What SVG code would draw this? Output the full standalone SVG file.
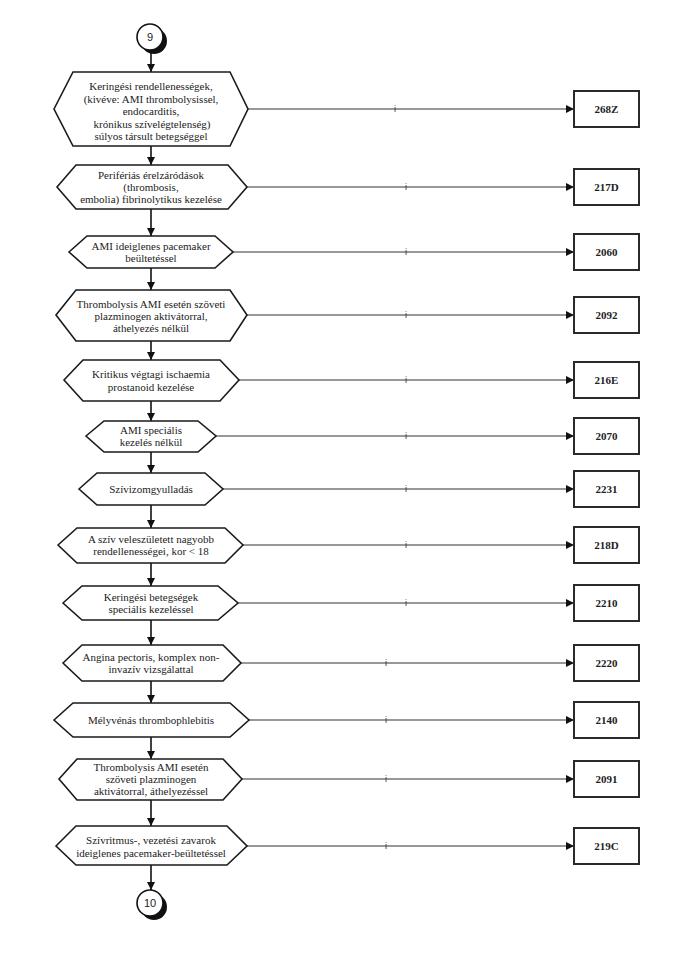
<svg xmlns="http://www.w3.org/2000/svg" width="687" height="976" viewBox="0 0 687 976">
<style>
.hex{fill:#fff;stroke:#1a1a1a;stroke-width:1.6}
.t{font-family:"Liberation Serif","Times New Roman",serif;font-size:11px;fill:#222;text-anchor:middle}
.box{fill:#fff;stroke:#2a2a2a;stroke-width:2}
.bt{font-family:"Liberation Serif","Times New Roman",serif;font-weight:bold;font-size:11px;fill:#222;text-anchor:middle}
.vc{stroke:#111;stroke-width:1.6;fill:none;marker-end:url(#ah)}
.hc{stroke:#333;stroke-width:1.2;fill:none;marker-end:url(#ah)}
.i{font-family:"Liberation Sans",Arial,sans-serif;font-size:9px;fill:#333;text-anchor:middle}
.ct{font-family:"Liberation Sans",Arial,sans-serif;font-size:11px;fill:#222;text-anchor:middle}
.cw{fill:#fff;stroke:#111;stroke-width:1.6}
</style>
<defs>
<marker id="ah" viewBox="0 0 10 10" refX="10" refY="5" markerWidth="9" markerHeight="8" markerUnits="userSpaceOnUse" orient="auto"><path d="M0,0 L10,5 L0,10 z" fill="#111"/></marker>
</defs>
<rect width="687" height="976" fill="#fff"/>

<g id="connectors">
<line class="vc" x1="151" y1="50" x2="151" y2="72"/>
<line class="vc" x1="151" y1="146" x2="151" y2="165"/>
<line class="vc" x1="151" y1="209" x2="151" y2="236"/>
<line class="vc" x1="151" y1="268" x2="151" y2="290"/>
<line class="vc" x1="151" y1="341" x2="151" y2="360"/>
<line class="vc" x1="151" y1="401" x2="151" y2="421"/>
<line class="vc" x1="151" y1="452" x2="151" y2="473"/>
<line class="vc" x1="151" y1="505" x2="151" y2="528"/>
<line class="vc" x1="151" y1="563" x2="151" y2="586"/>
<line class="vc" x1="151" y1="620" x2="151" y2="645"/>
<line class="vc" x1="151" y1="681" x2="151" y2="703"/>
<line class="vc" x1="151" y1="737" x2="151" y2="759"/>
<line class="vc" x1="151" y1="800" x2="151" y2="826"/>
<line class="vc" x1="151" y1="865" x2="151" y2="890"/>

<line class="hc" x1="248" y1="109" x2="574" y2="109"/>
<line class="hc" x1="247" y1="187" x2="574" y2="187"/>
<line class="hc" x1="233" y1="252" x2="574" y2="252"/>
<line class="hc" x1="247" y1="315" x2="574" y2="315"/>
<line class="hc" x1="239" y1="380" x2="574" y2="380"/>
<line class="hc" x1="216" y1="436" x2="574" y2="436"/>
<line class="hc" x1="223" y1="489" x2="574" y2="489"/>
<line class="hc" x1="243" y1="545" x2="574" y2="545"/>
<line class="hc" x1="238" y1="603" x2="574" y2="603"/>
<line class="hc" x1="241" y1="663" x2="574" y2="663"/>
<line class="hc" x1="249" y1="720" x2="574" y2="720"/>
<line class="hc" x1="242" y1="779" x2="574" y2="779"/>
<line class="hc" x1="247" y1="846" x2="574" y2="846"/>

<text class="i" x="395" y="112">i</text>
<text class="i" x="406" y="190">i</text>
<text class="i" x="406" y="255">i</text>
<text class="i" x="406" y="318">i</text>
<text class="i" x="406" y="383">i</text>
<text class="i" x="406" y="439">i</text>
<text class="i" x="406" y="492">i</text>
<text class="i" x="406" y="548">i</text>
<text class="i" x="406" y="606">i</text>
<text class="i" x="386" y="666">i</text>
<text class="i" x="386" y="723">i</text>
<text class="i" x="386" y="782">i</text>
<text class="i" x="386" y="849">i</text>
</g>

<g id="c9">
<circle cx="154" cy="41" r="13" fill="#111"/>
<circle class="cw" cx="150" cy="37" r="13"/>
<text class="ct" x="150" y="41">9</text>
</g>

<g id="n1">
<polygon class="hex" points="54,109 73,72 230,72 248,109 230,146 73,146"/>
<text class="t" x="151" y="90">Keringési rendellenességek,</text>
<text class="t" x="151" y="102.5">(kivéve: AMI thrombolysissel,</text>
<text class="t" x="151" y="115">endocarditis,</text>
<text class="t" x="152" y="127.5">krónikus szívelégtelenség)</text>
<text class="t" x="151" y="140">súlyos társult betegséggel</text>
</g>
<g id="n2">
<polygon class="hex" points="57,187 76,165 228,165 247,187 228,209 76,209"/>
<text class="t" x="151" y="179">Perifériás érelzáródások</text>
<text class="t" x="151" y="191">(thrombosis,</text>
<text class="t" x="151" y="203">embolia) fibrinolytikus kezelése</text>
</g>
<g id="n3">
<polygon class="hex" points="69,252 87,236 215,236 233,252 215,268 87,268"/>
<text class="t" x="151" y="250">AMI  ideiglenes pacemaker</text>
<text class="t" x="151" y="262">beültetéssel</text>
</g>
<g id="n4">
<polygon class="hex" points="56,315 76,290 230,290 247,315 230,341 76,341"/>
<text class="t" x="151" y="308">Thrombolysis AMI esetén szöveti</text>
<text class="t" x="151" y="320">plazminogen aktivátorral,</text>
<text class="t" x="151" y="332">áthelyezés nélkül</text>
</g>
<g id="n5">
<polygon class="hex" points="64,380 83,360 220,360 239,380 220,401 83,401"/>
<text class="t" x="151" y="378">Kritikus végtagi ischaemia</text>
<text class="t" x="151" y="391">prostanoid kezelése</text>
</g>
<g id="n6">
<polygon class="hex" points="86,436 104,421 198,421 216,436 198,452 104,452"/>
<text class="t" x="151" y="434">AMI speciális</text>
<text class="t" x="151" y="446">kezelés nélkül</text>
</g>
<g id="n7">
<polygon class="hex" points="79,489 97,473 205,473 223,489 205,505 97,505"/>
<text class="t" x="151" y="493">Szívizomgyulladás</text>
</g>
<g id="n8">
<polygon class="hex" points="58,545 77,528 225,528 243,545 225,563 77,563"/>
<text class="t" x="151" y="543">A szív veleszületett nagyobb</text>
<text class="t" x="151" y="555">rendellenességei, kor &lt; 18</text>
</g>
<g id="n9">
<polygon class="hex" points="63,603 82,586 218,586 238,603 218,620 82,620"/>
<text class="t" x="151" y="601">Keringési betegségek</text>
<text class="t" x="151" y="613">speciális kezeléssel</text>
</g>
<g id="n10">
<polygon class="hex" points="63,663 82,645 223,645 241,663 223,681 82,681"/>
<text class="t" x="151" y="661">Angina pectoris, komplex non-</text>
<text class="t" x="151" y="673">invazív vizsgálattal</text>
</g>
<g id="n11">
<polygon class="hex" points="54,720 73,703 230,703 249,720 230,737 73,737"/>
<text class="t" x="151" y="724">Mélyvénás thrombophlebitis</text>
</g>
<g id="n12">
<polygon class="hex" points="59,779 77,759 223,759 242,779 223,800 77,800"/>
<text class="t" x="151" y="771">Thrombolysis AMI esetén</text>
<text class="t" x="151" y="783">szöveti plazminogen</text>
<text class="t" x="151" y="795">aktivátorral, áthelyezéssel</text>
</g>
<g id="n13">
<polygon class="hex" points="56,846 76,826 227,826 247,846 227,865 76,865"/>
<text class="t" x="151" y="844">Szívritmus-, vezetési zavarok</text>
<text class="t" x="151" y="857">ideiglenes pacemaker-beültetéssel</text>
</g>

<g id="c10">
<circle cx="154" cy="907" r="13" fill="#111"/>
<circle class="cw" cx="150" cy="903" r="13"/>
<text class="ct" x="150" y="907">10</text>
</g>

<g id="b268Z"><rect class="box" x="574" y="91" width="65" height="36"/><text class="bt" x="606.5" y="113">268Z</text></g>
<g id="b217D"><rect class="box" x="574" y="169" width="65" height="36"/><text class="bt" x="606.5" y="191">217D</text></g>
<g id="b2060"><rect class="box" x="574" y="234" width="65" height="36"/><text class="bt" x="606.5" y="256">2060</text></g>
<g id="b2092"><rect class="box" x="574" y="297" width="65" height="36"/><text class="bt" x="606.5" y="319">2092</text></g>
<g id="b216E"><rect class="box" x="574" y="362" width="65" height="36"/><text class="bt" x="606.5" y="384">216E</text></g>
<g id="b2070"><rect class="box" x="574" y="418" width="65" height="36"/><text class="bt" x="606.5" y="440">2070</text></g>
<g id="b2231"><rect class="box" x="574" y="471" width="65" height="36"/><text class="bt" x="606.5" y="493">2231</text></g>
<g id="b218D"><rect class="box" x="574" y="527" width="65" height="36"/><text class="bt" x="606.5" y="549">218D</text></g>
<g id="b2210"><rect class="box" x="574" y="585" width="65" height="36"/><text class="bt" x="606.5" y="607">2210</text></g>
<g id="b2220"><rect class="box" x="574" y="645" width="65" height="36"/><text class="bt" x="606.5" y="667">2220</text></g>
<g id="b2140"><rect class="box" x="574" y="702" width="65" height="36"/><text class="bt" x="606.5" y="724">2140</text></g>
<g id="b2091"><rect class="box" x="574" y="761" width="65" height="36"/><text class="bt" x="606.5" y="783">2091</text></g>
<g id="b219C"><rect class="box" x="574" y="828" width="65" height="36"/><text class="bt" x="606.5" y="850">219C</text></g>
</svg>
